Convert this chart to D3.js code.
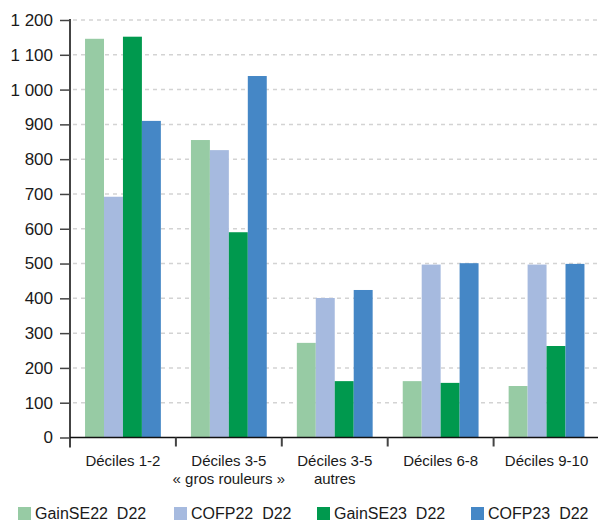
<!DOCTYPE html>
<html>
<head>
<meta charset="utf-8">
<script src="https://cdn.jsdelivr.net/npm/d3@7"></script>
<style>
  html, body { margin: 0; padding: 0; background: #fff; }
  svg { display: block; font-family: "Liberation Sans", Arial, Helvetica, sans-serif; }
</style>
</head>
<body>
<svg id="chart" width="598" height="521"></svg>
<script>
// Categories (each label may span two lines)
const categories = [
  ["Déciles 1-2"],
  ["Déciles 3-5", "« gros rouleurs »"],
  ["Déciles 3-5", "autres"],
  ["Déciles 6-8"],
  ["Déciles 9-10"]
];
const seriesNames = ["GainSE22  D22", "COFP22  D22", "GainSE23  D22", "COFP23  D22"];
const seriesColors = ["#97cba4", "#a6badf", "#00994e", "#4587c6"];

// Values per series, one per category
const gainSE22 = [1146, 855, 272, 162, 148];
const cofp22   = [692, 826, 401, 497, 497];
const gainSE23 = [1152, 590, 162, 157, 263];
const cofp23   = [910, 1039, 424, 501, 499];
const seriesValues = [gainSE22, cofp22, gainSE23, cofp23];

const yTicks = [0, 100, 200, 300, 400, 500, 600, 700, 800, 900, 1000, 1100, 1200];

const svg = d3.select("#chart");
const plotLeft = 70, plotRight = 599.5, plotTop = 20, plotBottom = 437.5;

const y = d3.scaleLinear().domain([0, 1200]).range([plotBottom, plotTop]);
const x0 = d3.scaleBand().domain(d3.range(categories.length)).range([plotLeft, plotRight]).padding(0);
const bw = x0.bandwidth();
const x1 = d3.scaleBand().domain(d3.range(seriesNames.length)).range([bw * 0.142, bw * 0.858]).padding(0);

const fmt = v => d3.format(",")(v).replace(/,/g, " ");

// Dashed horizontal gridlines
svg.append("g")
  .selectAll("line")
  .data(yTicks.filter(t => t > 0))
  .join("line")
  .attr("x1", plotLeft + 3).attr("x2", 598)
  .attr("y1", d => y(d)).attr("y2", d => y(d))
  .attr("stroke", "#d3d3d3")
  .attr("stroke-width", 1.5)
  .attr("stroke-dasharray", "4,4");

// Bars
const groups = svg.append("g")
  .selectAll("g")
  .data(categories.map((c, i) => i))
  .join("g")
  .attr("transform", i => `translate(${x0(i)},0)`);

groups.selectAll("rect")
  .data(i => seriesValues.map((vals, s) => ({ s, v: vals[i] })))
  .join("rect")
  .attr("x", d => x1(d.s))
  .attr("width", x1.bandwidth())
  .attr("y", d => y(d.v))
  .attr("height", d => y(0) - y(d.v))
  .attr("fill", d => seriesColors[d.s]);

// Y axis
const yAxis = d3.axisLeft(y).tickValues(yTicks).tickFormat(fmt).tickSize(10).tickPadding(7);
const gy = svg.append("g").attr("transform", `translate(${plotLeft},0)`).call(yAxis);
gy.select(".domain").attr("stroke", "#444").attr("stroke-width", 2)
  .attr("d", `M0,${plotTop - 1}V${plotBottom + 10}`);
gy.selectAll(".tick line").attr("stroke", "#444").attr("stroke-width", 1.5);
gy.selectAll(".tick text").attr("font-size", 17).attr("fill", "#1a1a1a")
  .attr("font-family", "Liberation Sans, Arial, sans-serif");

// X axis baseline
svg.append("line")
  .attr("x1", plotLeft).attr("x2", 598)
  .attr("y1", plotBottom).attr("y2", plotBottom)
  .attr("stroke", "#111").attr("stroke-width", 1.5);

// Category separator ticks
svg.append("g")
  .selectAll("line")
  .data(d3.range(1, categories.length))
  .join("line")
  .attr("x1", i => x0(i)).attr("x2", i => x0(i))
  .attr("y1", plotBottom).attr("y2", plotBottom + 9)
  .attr("stroke", "#444").attr("stroke-width", 2);

// Category labels, one text element per line
const labelLines = categories.flatMap((lines, i) => lines.map((t, j) => ({ i, j, t })));
svg.append("g")
  .selectAll("text")
  .data(labelLines)
  .join("text")
  .attr("text-anchor", "middle")
  .attr("font-size", 15)
  .attr("fill", "#1a1a1a")
  .attr("x", d => x0(d.i) + bw / 2)
  .attr("y", d => 466 + d.j * 17.5)
  .text(d => d.t);

// Legend
const legendX = [18, 174, 317, 471];
const legend = svg.append("g")
  .selectAll("g")
  .data(seriesNames)
  .join("g")
  .attr("transform", (d, i) => `translate(${legendX[i]},507)`);
legend.append("rect")
  .attr("width", 13).attr("height", 13)
  .attr("fill", (d, i) => seriesColors[i]);
legend.append("text")
  .attr("x", 17).attr("y", 12)
  .attr("font-size", 16)
  .attr("fill", "#1a1a1a")
  .style("white-space", "pre")
  .text(d => d);
</script>
</body>
</html>
